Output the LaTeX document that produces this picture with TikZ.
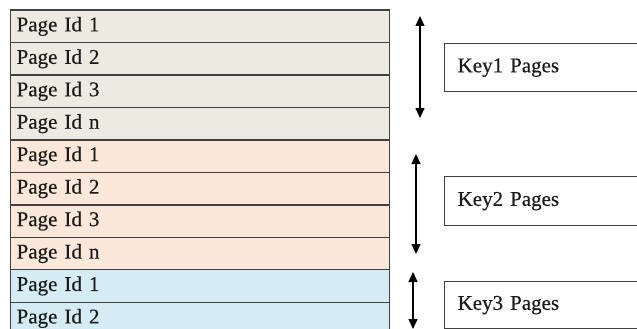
\documentclass[tikz,border=0pt]{standalone}
\usepackage{fontspec}
\setmainfont[WordSpace=0.7,FakeBold=0.3]{Liberation Serif}
\usetikzlibrary{arrows.meta}
\definecolor{greyrow}{HTML}{EDEBE1}
\definecolor{peachrow}{HTML}{FCE8DA}
\definecolor{bluerow}{HTML}{D5ECF4}
\definecolor{edge}{HTML}{404040}
\definecolor{ink}{HTML}{1A1A1A}
\newcommand{\labelfont}{\fontsize{21}{24}\selectfont}
\tikzset{
  pagerow/.style={draw=edge, line width=1.3pt, rectangle, minimum width=379pt,
    minimum height=32.45pt, text width=367pt, align=left, inner sep=0pt,
    font=\labelfont, text=ink, anchor=north west},
  keybox/.style={draw=edge, line width=1.3pt, rectangle, minimum width=210pt,
    text width=184pt, align=left, inner sep=0pt, anchor=north west,
    font=\labelfont, text=ink},
  span/.style={line width=1.3pt, black,
    {Triangle[width=9pt,length=10pt]}-{Triangle[width=9pt,length=10pt]}}
}
\begin{document}
\begin{tikzpicture}[x=1pt,y=-1pt]
\clip (0,0) rectangle (637,329);
\fill[white] (0,0) rectangle (637,329);

% page id table, three key groups
\node[pagerow, fill=greyrow]  (a1) at (10,9.5)    {Page Id 1};
\node[pagerow, fill=greyrow]  (a2) at (10,41.95)  {Page Id 2};
\node[pagerow, fill=greyrow]  (a3) at (10,74.4)   {Page Id 3};
\node[pagerow, fill=greyrow]  (a4) at (10,106.85) {Page Id n};
\node[pagerow, fill=peachrow] (b1) at (10,139.3)  {Page Id 1};
\node[pagerow, fill=peachrow] (b2) at (10,171.75) {Page Id 2};
\node[pagerow, fill=peachrow] (b3) at (10,204.2)  {Page Id 3};
\node[pagerow, fill=peachrow] (b4) at (10,236.65) {Page Id n};
\node[pagerow, fill=bluerow]  (c1) at (10,269.1)  {Page Id 1};
\node[pagerow, fill=bluerow]  (c2) at (10,301.55) {Page Id 2};

% key labels
\node[keybox, minimum height=48pt] (k1) at (444,43)  {Key1 Pages};
\node[keybox, minimum height=49pt] (k2) at (444,176) {Key2 Pages};
\node[keybox, minimum height=47pt] (k3) at (444,281) {Key3 Pages};

% extent arrows
\coordinate (k1top) at (420,16);  \coordinate (k1bot) at (420,118);
\coordinate (k2top) at (416,154); \coordinate (k2bot) at (416,254);
\coordinate (k3top) at (413,272); \coordinate (k3bot) at (413,329);
\draw[span] (k1top) -- (k1bot);
\draw[span] (k2top) -- (k2bot);
\draw[span] (k3top) -- (k3bot);
\end{tikzpicture}
\end{document}
